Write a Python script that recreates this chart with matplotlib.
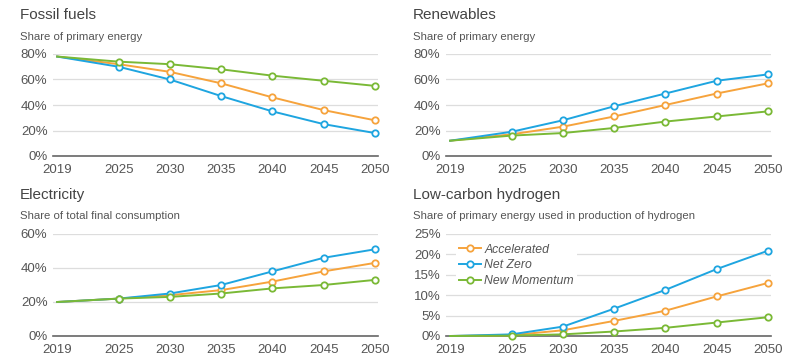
import matplotlib
matplotlib.use("Agg")
import matplotlib.pyplot as plt
from matplotlib.ticker import FuncFormatter

plt.rcParams['font.family'] = ['Liberation Sans', 'DejaVu Sans']

years = [2019, 2025, 2030, 2035, 2040, 2045, 2050]
scenarios = ["Accelerated", "Net Zero", "New Momentum"]
colors = {"Accelerated": "#f6a33c", "Net Zero": "#1ea5e0", "New Momentum": "#7ab936"}

fossil = {
    "Accelerated": [78, 72, 66, 57, 46, 36, 28],
    "Net Zero": [78, 70, 60, 47, 35, 25, 18],
    "New Momentum": [78, 74, 72, 68, 63, 59, 55],
}
renew = {
    "Accelerated": [12, 17, 23, 31, 40, 49, 57],
    "Net Zero": [12, 19, 28, 39, 49, 59, 64],
    "New Momentum": [12, 16, 18, 22, 27, 31, 35],
}
elec = {
    "Accelerated": [20, 22, 24, 27, 32, 38, 43],
    "Net Zero": [20, 22, 25, 30, 38, 46, 51],
    "New Momentum": [20, 22, 23, 25, 28, 30, 33],
}
hydro = {
    "Accelerated": [0, 0.2, 1.4, 3.7, 6.2, 9.7, 13.0],
    "Net Zero": [0, 0.4, 2.3, 6.7, 11.3, 16.4, 20.9],
    "New Momentum": [0, 0.1, 0.4, 1.1, 2.0, 3.3, 4.6],
}

panels = [
    ("Fossil fuels", "Share of primary energy", fossil, [0, 20, 40, 60, 80], 53, 54, 156, 20, 15, 37),
    ("Renewables", "Share of primary energy", renew, [0, 20, 40, 60, 80], 446, 54, 156, 413, 15, 37),
    ("Electricity", "Share of total final consumption", elec, [0, 20, 40, 60], 53, 234, 336, 20, 195, 216),
    ("Low-carbon hydrogen", "Share of primary energy used in production of hydrogen", hydro,
     [0, 5, 10, 15, 20, 25], 446, 234, 336, 413, 195, 216),
]

W, H = 800, 362
fig = plt.figure(figsize=(W / 100, H / 100), dpi=100)
txt = "#555555"

for idx, (title, sub, data, yt, xl, ytop, ybot, tx, ty, sy) in enumerate(panels):
    ax = fig.add_axes([xl / W, (H - ybot) / H, 325 / W, (ybot - ytop) / H])
    ax.set_xlim(2018.6, 2050.3)
    ax.set_ylim(yt[0], yt[-1])
    for s in scenarios:
        v = data[s]
        ax.plot(years, v, color=colors[s], lw=1.4, zorder=3, clip_on=False, label=s,
                marker="o", markersize=4.6, markerfacecolor="white", markeredgewidth=1.3,
                markevery=list(range(1, len(years))))
    ax.set_yticks(yt)
    ax.set_xticks(years)
    ax.yaxis.set_major_formatter(FuncFormatter(lambda v, p: f"{v:.0f}%"))
    ax.grid(axis="y", color="#dddddd", lw=0.9, zorder=0)
    for sp in ["top", "right", "left"]:
        ax.spines[sp].set_visible(False)
    ax.spines["bottom"].set_color("#666666")
    ax.spines["bottom"].set_linewidth(1.2)
    ax.tick_params(axis="both", length=0, labelsize=9.5, colors=txt)
    ax.tick_params(axis="y", pad=4)
    ax.tick_params(axis="x", pad=6)
    fig.text(tx / W, 1 - ty / H, title, fontsize=11, color="#444444", va="center", ha="left")
    fig.text(tx / W, 1 - sy / H, sub, fontsize=8.2, color=txt, va="center", ha="left")
    if idx == 3:
        leg = ax.legend(loc="upper left", bbox_to_anchor=(0.013, 0.99), frameon=True,
                        framealpha=1, edgecolor="none", handlelength=1.8,
                        labelspacing=0.3, borderpad=0.2, handletextpad=0.3,
                        prop={"style": "italic", "size": 8.8})
        for t in leg.get_texts():
            t.set_color(txt)

fig.savefig("out.png", dpi=100)
